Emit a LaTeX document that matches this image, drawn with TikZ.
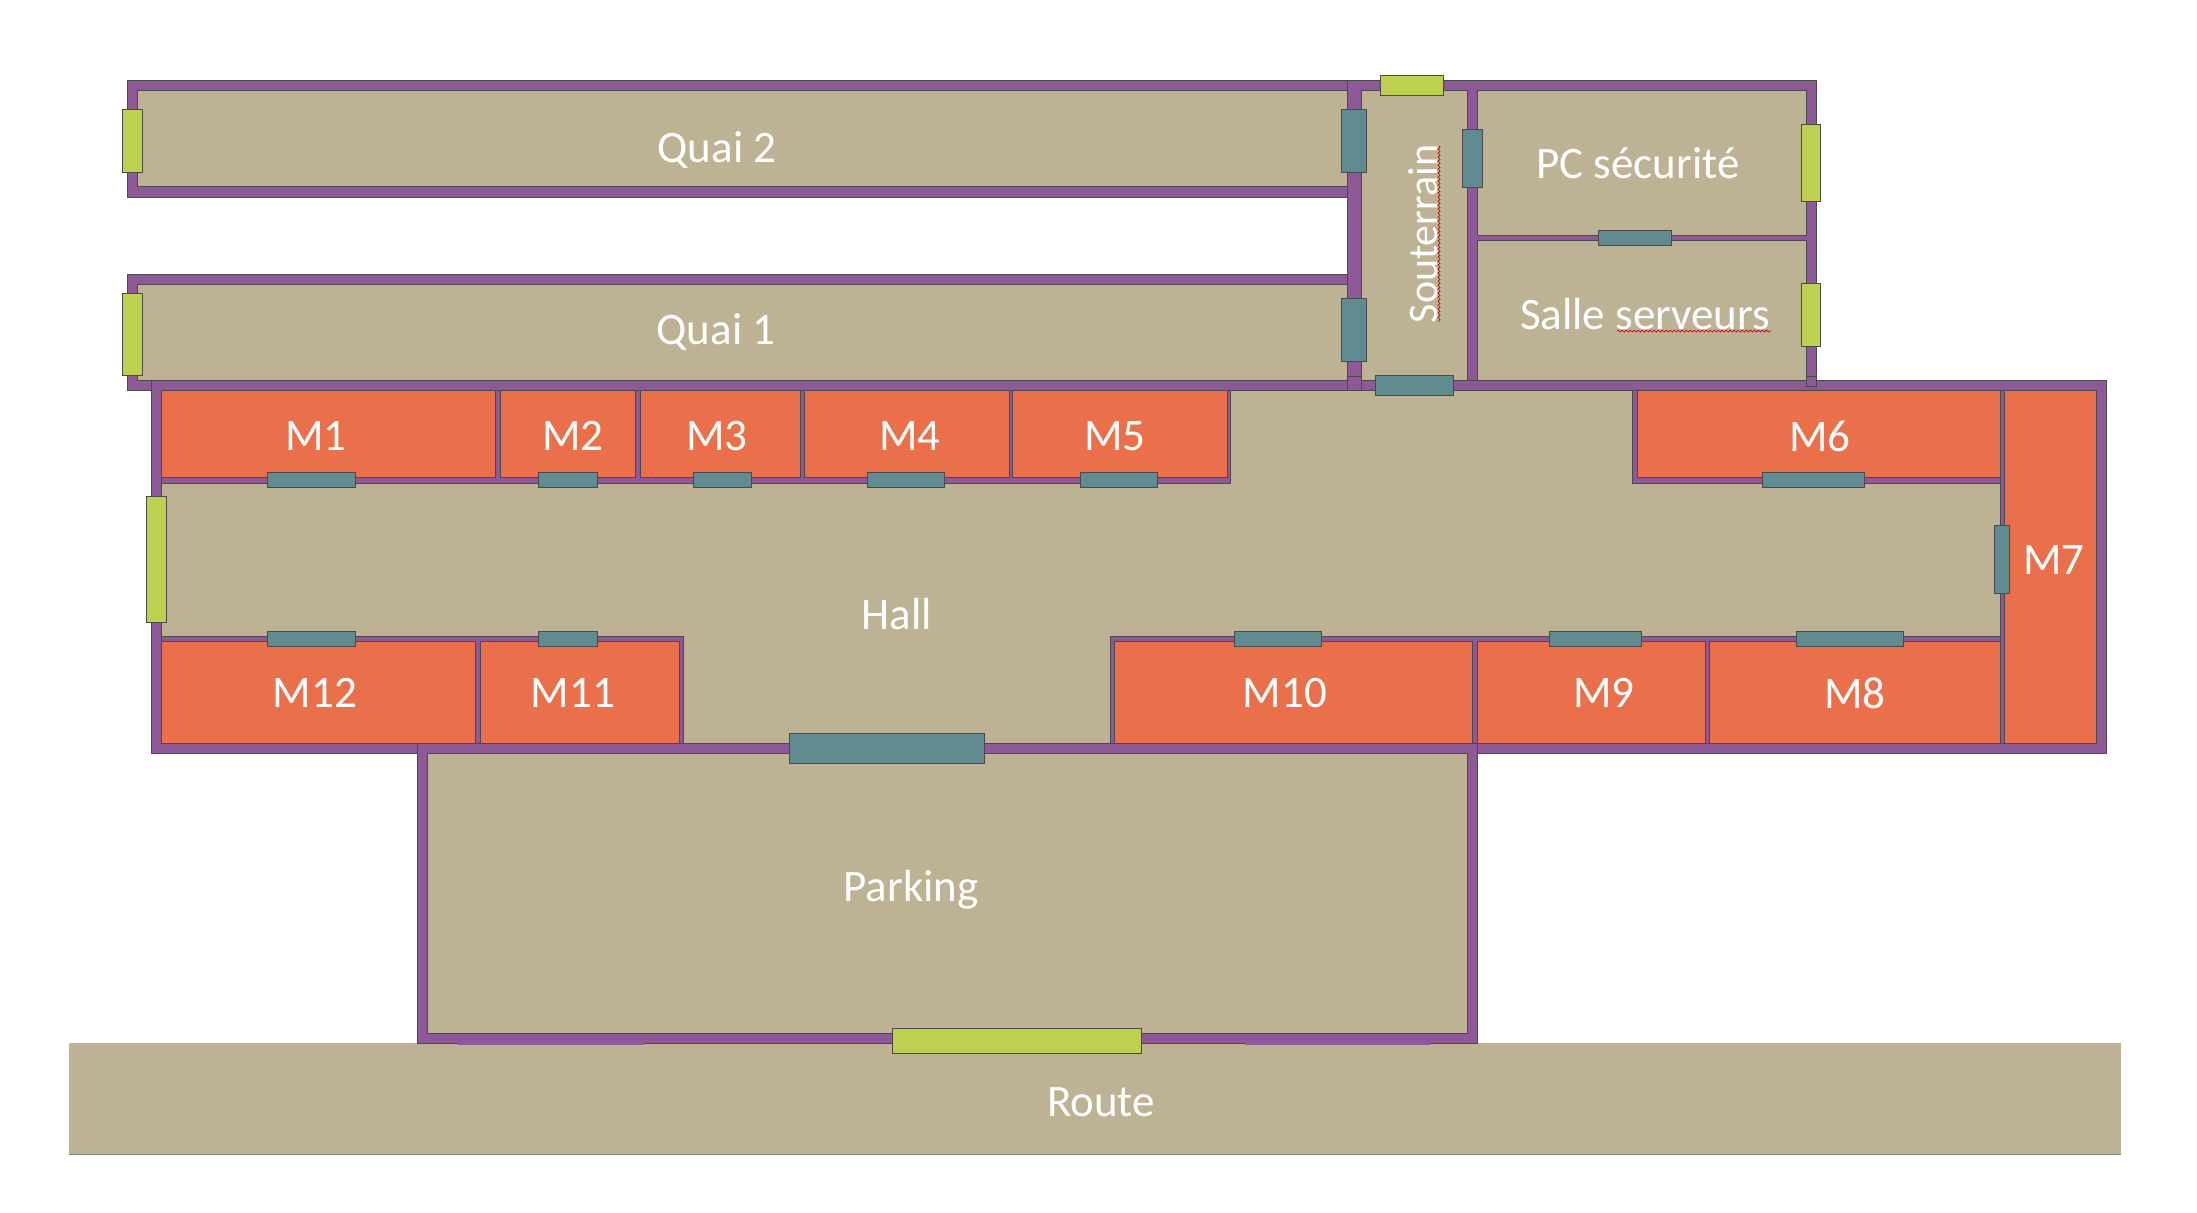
\documentclass[tikz,border=0pt]{standalone}
\usepackage{fontspec}
\setmainfont{Carlito}
\usetikzlibrary{decorations.pathmorphing}
\definecolor{wallc}{HTML}{8D5A97}
\definecolor{tanc}{HTML}{BEB295}
\definecolor{shopc}{HTML}{E9704A}
\definecolor{tealc}{HTML}{608B90}
\definecolor{limec}{HTML}{BDD04F}
\definecolor{edgec}{HTML}{4A4A4A}

\begin{document}
\begin{tikzpicture}[
  x=0.5pt,
  y=-0.5pt,
  wall/.style={fill=wallc, draw=edgec, line width=0.4pt},
  room/.style={fill=tanc, draw=edgec, line width=0.5pt},
  shop/.style={fill=shopc, draw=edgec, line width=0.5pt},
  door/.style={fill=tealc, draw=edgec, line width=0.5pt},
  exit/.style={fill=limec, draw=edgec, line width=0.5pt},
  label/.style={text=white, font=\fontsize{22.5}{27}\selectfont, inner sep=0pt},
  squiggle/.style={draw=red!75!black, line width=0.35pt, decorate,
    decoration={snake, amplitude=0.5pt, segment length=2pt}}
]
\useasboundingbox (0,0) rectangle (2197,1212);

% Road
\fill[tanc] (69,1043) rectangle (2121,1154);
\draw[edgec!70, line width=0.5pt] (69,1154) -- (2121,1154);

% Outer walls
\draw[wall] (127,80) rectangle (1361,197);
\draw[wall] (127,274) rectangle (1361,390);
\draw[wall] (1347,80) rectangle (1816,390);
\draw[wall] (151,380) rectangle (2106,753);
\draw[wall] (1347,376) rectangle (1361,390);
\draw[wall] (1806,376) rectangle (1816,386);
\draw[wall] (417,743) rectangle (1477,1043);
\fill[wallc] (458,1033) rectangle (644,1045);
\fill[wallc] (1245,1033) rectangle (1430,1045);

% Quays and rooms at the top right
\draw[room] (137,90) rectangle (1347,186);
\draw[room] (137,284) rectangle (1347,380);
\draw[room] (1361,90) rectangle (1467,380);
\draw[room] (1477,90) rectangle (1806,235);
\draw[room] (1477,240) rectangle (1806,380);

% Hall and parking
\draw[room] (161,390) rectangle (2096,743);
\draw[room] (427,753) rectangle (1467,1033);
\draw[wall] (161,390) rectangle (1230,483);
\draw[wall] (1632,390) rectangle (2004,483);
\draw[wall] (161,636) rectangle (683,743);
\draw[wall] (1110,636) rectangle (2004,743);
\draw[wall] (2000,390) rectangle (2096,743);

% Shops
\draw[shop] (161,390) rectangle (495,477);
\draw[shop] (500,390) rectangle (635,477);
\draw[shop] (640,390) rectangle (800,477);
\draw[shop] (804,390) rectangle (1009,477);
\draw[shop] (1012,390) rectangle (1227,477);
\draw[shop] (1637,390) rectangle (2000,477);
\draw[shop] (2004,390) rectangle (2096,743);
\draw[shop] (161,641) rectangle (475,743);
\draw[shop] (480,641) rectangle (679,743);
\draw[shop] (1114,641) rectangle (1472,743);
\draw[shop] (1477,641) rectangle (1705,743);
\draw[shop] (1709,641) rectangle (2000,743);

% Inner doors
\draw[door] (1341,109) rectangle (1366,172);
\draw[door] (1341,298) rectangle (1366,361);
\draw[door] (1462,129) rectangle (1482,187);
\draw[door] (1598,230) rectangle (1671,245);
\draw[door] (1375,375) rectangle (1453,395);
\draw[door] (267,472) rectangle (355,487);
\draw[door] (538,472) rectangle (597,487);
\draw[door] (693,472) rectangle (751,487);
\draw[door] (867,472) rectangle (944,487);
\draw[door] (1080,472) rectangle (1157,487);
\draw[door] (1762,472) rectangle (1864,487);
\draw[door] (1994,525) rectangle (2009,593);
\draw[door] (267,631) rectangle (355,646);
\draw[door] (538,631) rectangle (597,646);
\draw[door] (1234,631) rectangle (1321,646);
\draw[door] (1549,631) rectangle (1641,646);
\draw[door] (1796,631) rectangle (1903,646);
\draw[door] (789,733) rectangle (984,763);

% Outside doors
\draw[exit] (122,109) rectangle (142,172);
\draw[exit] (122,293) rectangle (142,375);
\draw[exit] (146,496) rectangle (166,622);
\draw[exit] (1380,75) rectangle (1443,95);
\draw[exit] (1801,124) rectangle (1820,201);
\draw[exit] (1801,283) rectangle (1820,346);
\draw[exit] (892,1028) rectangle (1141,1053);

% Labels
\node[label] (quai2) at (717,150) {Quai 2};
\node[label] (quai1) at (716,332) {Quai 1};
\node[label] (pc) at (1638,163) {PC sécurité};
\node[label] (salle) at (1645,314) {Salle serveurs};
\node[label, rotate=90, font=\fontsize{21}{25}\selectfont] (souterrain) at (1423,234) {Souterrain};
\node[label] (m1) at (316,436) {M1};
\node[label] (m2) at (573,436) {M2};
\node[label] (m3) at (717,436) {M3};
\node[label] (m4) at (910,436) {M4};
\node[label] (m5) at (1115,436) {M5};
\node[label] (m6) at (1820,436) {M6};
\node[label] (m7) at (2054,560) {M7};
\node[label] (m8) at (1855,693) {M8};
\node[label] (m9) at (1604,693) {M9};
\node[label] (m10) at (1285,693) {M10};
\node[label] (m11) at (573,693) {M11};
\node[label] (m12) at (315,693) {M12};
\node[label] (hall) at (897,614) {Hall};
\node[label] (parking) at (911,890) {Parking};
\node[label] (route) at (1101,1102) {Route};

% Spell check marks
\draw[squiggle] (1439,146) -- (1439,322);
\draw[squiggle] (1617,331) -- (1771,331);

\end{tikzpicture}
\end{document}
